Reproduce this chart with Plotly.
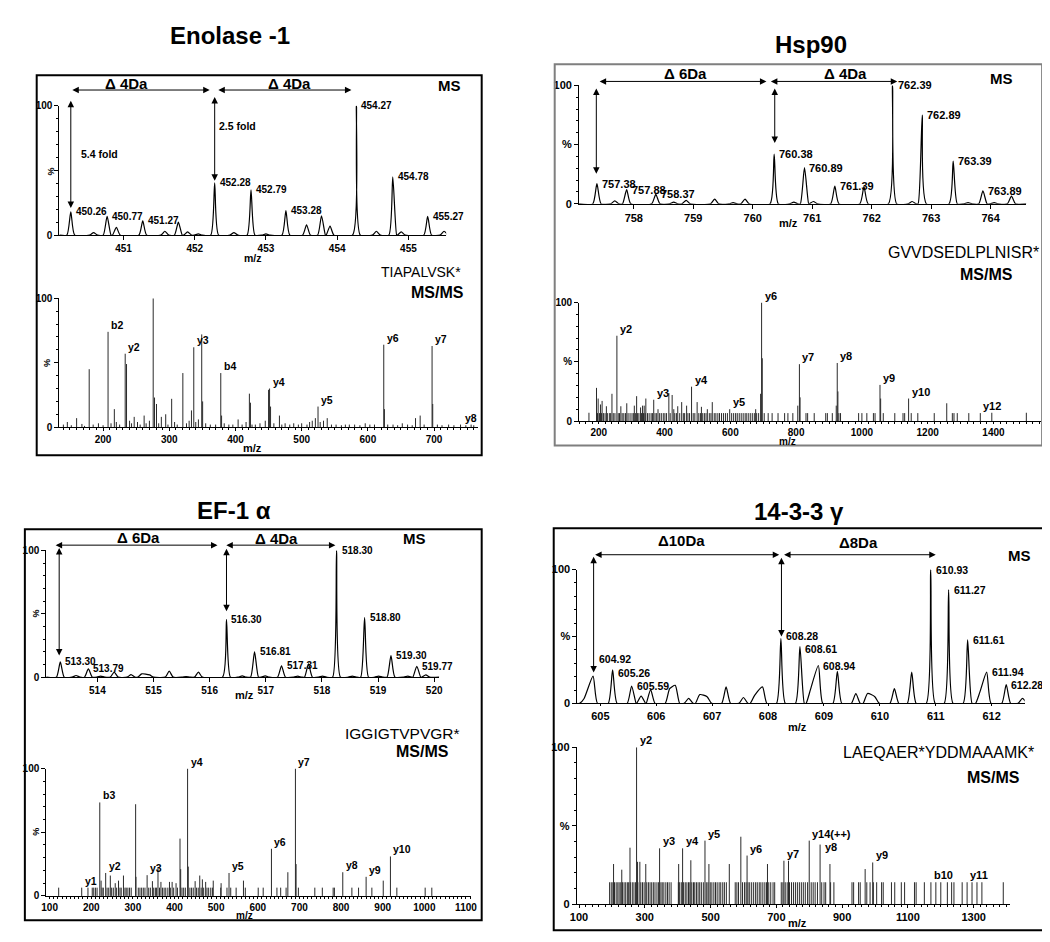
import plotly.graph_objects as go

W, H = 1050, 942
FONT = 'Liberation Sans, Arial, sans-serif'

# ---------------- Enolase -1 ----------------
ENO_MS_MZ = [450.26, 450.58, 450.77, 450.90, 451.27, 451.58, 451.77, 451.90, 452.05, 452.28, 452.55,
             452.79, 453.00, 453.28, 453.57, 453.78, 453.90, 454.27, 454.55, 454.78, 454.90, 455.27, 455.50]
ENO_MS_INT = [18, 2, 14.5, 6, 11, 3, 10, 2.5, 1, 40.5, 2,
              35, 1, 19, 8, 15, 7, 100, 3, 45, 2.5, 14.5, 3]
ENO_MS_LABEL_AT = [450.26, 450.77, 451.27, 452.28, 452.79, 453.28, 454.27, 454.78, 455.27]
ENO_MS_LABELS = ['450.26', '450.77', '451.27', '452.28', '452.79', '453.28', '454.27', '454.78', '455.27']

ENO_MSMS_MZ = [146, 160, 179, 207.5, 217, 233.4, 235.4, 247, 262, 275.7, 277.7, 280.7, 288, 294.6, 303.6,
               320.5, 333.5, 337, 349, 350.4, 377.8, 379, 404, 421, 422.6, 450, 451.5, 453, 466.4,
               520.7, 524.7, 538.6, 624, 625, 679, 697, 698, 756]
ENO_MSMS_INT = [4, 7, 45, 74, 14, 57, 49, 8, 9, 100, 23, 18, 8, 10, 22,
                42, 13, 62, 72, 20, 42, 9, 6, 26, 19, 29, 30, 16, 9,
                7, 16, 7, 64, 14, 9, 63, 18, 2]
ENO_NOISE_MZ = [140, 152, 168, 172, 185, 193, 200, 212, 220, 225, 240, 243, 252, 256, 265, 270, 284, 298,
                308, 312, 326, 330, 340, 344, 355, 362, 370, 383, 390, 396, 410, 416, 425, 430, 437, 445,
                458, 470, 475, 482, 488, 495, 500, 508, 512, 516, 528, 533, 545, 552, 560, 566, 572, 580,
                588, 596, 603, 610, 630, 638, 645, 652, 660, 667, 672, 685, 705, 712, 722, 730, 740, 748, 760]
ENO_NOISE_INT = [2, 1.5, 2.5, 1, 2, 3, 1.5, 3, 4, 2, 5, 3, 4, 2, 3, 5, 3, 2,
                 4, 2, 3, 5, 4, 6, 3, 2, 2, 3, 2, 2, 2, 4, 2, 2, 3, 5,
                 3, 2, 3, 2, 3, 2, 3, 2, 4, 5, 4, 5, 2, 2, 1.5, 2, 2, 2,
                 1.5, 3, 2, 2, 2, 2, 1.5, 3, 2, 1.5, 7, 2, 2, 1.5, 2, 1.5, 2, 1.5, 1.5]
ENO_MSMS_LABEL_AT = [207.5, 233.4, 337, 377.8, 451.5, 524.7, 624, 697, 756]
ENO_MSMS_LABELS = ['b2', 'y2', 'y3', 'b4', 'y4', 'y5', 'y6', 'y7', 'y8']

# ---------------- Hsp90 ----------------
HSP_MS_MZ = [757.38, 757.68, 757.88, 758.37, 758.67, 758.88, 759.36, 759.67, 759.87, 760.36, 760.69, 760.87,
             761.02, 761.38, 761.87, 762.35, 762.68, 762.85, 763.37, 763.62, 763.87, 764.06, 764.35]
HSP_MS_INT = [17, 2.5, 12, 8, 1.5, 3, 4, 1, 4, 42, 1.5, 30.5,
              2, 15, 14.5, 100, 2, 75, 36, 1, 11, 1, 6.5]
HSP_MS_LABEL_AT = [757.38, 757.88, 758.37, 760.36, 760.87, 761.38, 762.35, 762.85, 763.37, 763.87]
HSP_MS_LABELS = ['757.38', '757.88', '758.37', '760.38', '760.89', '761.39', '762.39', '762.89', '763.39', '763.89']

HSP_MSMS_MZ = [170, 193, 198, 205, 210, 223, 240, 255, 267, 285, 308, 315, 327, 333, 338, 343, 367, 380,
               413, 423, 428, 440, 452, 467, 482, 499, 512, 530, 545, 598, 677, 692, 695, 697,
               805, 810, 812, 922, 925, 927, 1055, 1057, 1142, 1258, 1360, 1395, 1500]
HSP_MSMS_INT = [7, 28, 19, 14, 17, 12.5, 23, 72, 12.5, 15, 13, 21, 11.5, 13, 13, 19, 18, 10,
                23.6, 22, 10, 12.5, 16, 13, 29, 16, 12, 10, 16, 10, 10, 23, 100, 53,
                13, 48, 20, 13, 49, 25, 30.5, 19, 19, 15, 6.7, 7, 7]
HSP_BAND_LEVEL = 6.7
HSP_BAND_MZ = [196, 202, 208, 214, 219, 226, 232, 236, 244, 249, 259, 263, 271, 276, 281, 289, 295, 301,
               306, 312, 318, 322, 330, 336, 341, 348, 353, 359, 363, 371, 376, 385, 390, 396, 401, 406,
               417, 431, 436, 446, 457, 461, 471, 476, 487, 492, 504, 509, 516, 521, 526, 536, 541, 551,
               556, 562, 567, 573, 579, 585, 591, 604, 610, 616, 621, 627, 633, 639, 645, 650, 656, 662,
               668, 674, 680, 686, 703, 715, 727, 745, 765, 775, 790, 830, 835, 855, 890, 895, 910, 930,
               935, 990, 1000, 1015, 1035, 1040, 1065, 1100, 1125, 1130, 1150, 1170, 1220, 1275, 1280,
               1290, 1325]
HSP_MSMS_LABEL_AT = [255, 367, 482, 598, 695, 810, 925, 1055, 1142, 1360]
HSP_MSMS_LABELS = ['y2', 'y3', 'y4', 'y5', 'y6', 'y7', 'y8', 'y9', 'y10', 'y12']

# ---------------- EF-1 alpha ----------------
EF_MS_MZ = [513.34, 513.62, 513.84, 514.06, 514.30, 514.60, 514.79, 514.93, 515.28, 515.58, 515.80, 516.30,
            516.58, 516.80, 516.99, 517.28, 517.57, 517.76, 518.01, 518.26, 518.54, 518.76, 519.01, 519.23,
            519.53, 519.69, 519.85]
EF_MS_INT = [12, 1.3, 6.5, 0.8, 4, 2, 2.6, 1.8, 4.7, 0.5, 4, 45.5,
             1, 20, 1, 9, 0.8, 10.4, 0.8, 100, 0.8, 47, 0.8, 17,
             0.8, 8.6, 1.8]
EF_MS_LABEL_AT = [513.34, 513.84, 516.30, 516.80, 517.28, 518.26, 518.76, 519.23, 519.69]
EF_MS_LABELS = ['513.30', '513.79', '516.30', '516.81', '517.31', '518.30', '518.80', '519.30', '519.77']

EF_MSMS_MZ = [121.8, 177.1, 192.1, 202.4, 220.5, 223.7, 234.7, 245.8, 257.6, 265.5, 277.4, 306.6, 307.4,
              334.2, 346.9, 360.3, 367.4, 387.9, 394.3, 403.7, 413.2, 414.8, 431.4, 433, 449.5, 460.6,
              466.9, 474.8, 493, 511.9, 530.9, 565.6, 632.8, 672.2, 690.4, 692, 804.1, 860.2, 901.3, 918.6]
EF_MSMS_INT = [6.5, 6.5, 6.5, 6.5, 73.4, 12, 18, 16, 10, 12, 16, 72, 15,
               16.3, 11.6, 22.5, 11, 11, 11, 10, 45, 21, 100, 23, 11.6, 16,
               13, 11, 12, 10, 18, 12, 37, 18.6, 100, 25, 18.6, 15, 12, 31]
EF_BAND_LEVEL = 6.5
EF_BAND_MZ = [206, 210, 214, 226, 229, 238, 242, 249, 253, 261, 269, 272, 281, 284, 288, 292, 296, 313,
              317, 321, 325, 329, 338, 342, 350, 354, 357, 364, 371, 375, 379, 384, 390, 398, 407, 418,
              422, 426, 437, 441, 445, 453, 457, 464, 470, 478, 482, 487, 491, 511, 526, 535, 548, 570,
              601, 613, 646, 655, 668, 697.5, 737, 755, 781, 784, 826, 842, 874, 934, 1002, 1018]
EF_MSMS_LABEL_AT = [177.1, 220.5, 234.7, 334.2, 431.4, 530.9, 632.8, 690.4, 804.1, 860.2, 918.6]
EF_MSMS_LABELS = ['y1', 'b3', 'y2', 'y3', 'y4', 'y5', 'y6', 'y7', 'y8', 'y9', 'y10']

# ---------------- 14-3-3 gamma ----------------
G14_MS_MZ = [604.71, 604.87, 605.22, 605.56, 605.73, 605.90, 606.24, 606.34, 606.58, 606.78, 606.91, 607.25,
             607.56, 607.76, 607.90, 608.23, 608.57, 608.76, 608.90, 609.24, 609.57, 609.78, 609.91, 610.26,
             610.57, 610.91, 611.23, 611.57, 611.79, 611.91, 612.26, 612.55]
G14_MS_INT = [3.7, 20.4, 25, 13, 5.4, 10.3, 11, 13.5, 3.7, 6.6, 5, 12.3,
              4.4, 6, 12.3, 48.4, 42.5, 10.5, 28.3, 24, 7.4, 7.4, 5, 11,
              23.3, 100, 84.8, 47.4, 8.6, 23.3, 14, 3.7]
G14_MS_LABEL_AT = [604.87, 605.22, 605.56, 608.23, 608.57, 608.90, 610.91, 611.23, 611.57, 611.91, 612.26]
G14_MS_LABELS = ['604.92', '605.26', '605.59', '608.28', '608.61', '608.94', '610.93', '611.27', '611.61',
                 '611.94', '612.28']

G14_MSMS_MZ = [205, 230, 255, 275, 278, 285, 303, 345, 403, 415, 440, 483, 495, 557, 592, 611, 673, 723,
               737, 800, 833, 863, 970, 993]
G14_MSMS_INT = [25.6, 22, 36, 100, 27, 27, 25.6, 35.6, 25.6, 35.6, 28, 40.5, 25.6, 25.6, 43, 31, 25.6, 27.7,
                27.7, 40.5, 38, 25.6, 22.4, 26.6]
G14_BAND_LEVEL = 14
G14_BAND_MZ = [193, 198, 203, 208, 213, 218, 222, 227, 232, 237, 242, 247, 251, 256, 262, 267, 272, 279,
               288, 293, 298, 306, 311, 316, 321, 326, 331, 337, 342, 349, 353, 358, 364, 369, 374, 380,
               402, 406, 411, 418, 423, 428, 433, 437, 443, 448, 452, 457, 462, 467, 472, 478, 487, 492,
               499, 504, 510, 515, 520, 526, 531, 537, 542, 548, 575, 580, 585, 597, 603, 608, 614, 619,
               625, 631, 637, 642, 648, 653, 659, 665, 670, 677, 683, 690, 695, 715, 720, 727, 733, 740,
               746, 752, 758, 764, 770, 776, 782, 788, 795, 806, 812, 818, 825, 838, 845, 850, 865, 875,
               930, 935, 950, 955, 975, 985, 995, 1005, 1020, 1025, 1050, 1060, 1080, 1090, 1120, 1125,
               1150, 1170, 1185, 1200, 1220, 1233, 1240, 1265, 1280, 1295, 1310, 1325, 1390]
G14_MSMS_LABEL_AT = [275, 345, 415, 483, 611, 723, 800, 833, 993, 1170, 1280]
G14_MSMS_LABELS = ['y2', 'y3', 'y4', 'y5', 'y6', 'y7', 'y14(++)', 'y8', 'y9', 'b10', 'y11']

# per-label placement tweaks (style only)
NUDGE = {
    'y8@756': dict(xanchor='center', xshift=0),
    '604.92': dict(yshift=17, xshift=4),
    '605.26': dict(yshift=-3),
    '608.28': dict(yshift=3),
    '608.61': dict(yshift=-2),
    'y8@833': dict(yanchor='middle', xshift=3, yshift=-2),
}


def fx(p):
    return p / W


def fy(p):
    return 1 - p / H


def refs(n):
    return ('x' if n == 1 else 'x%d' % n), ('y' if n == 1 else 'y%d' % n)


def profile(mz, inten, width, lo, hi):
    # peak list -> line points (peak top plus a foot on each free side)
    xs, ys = [lo], [0]
    for i, (m, h) in enumerate(zip(mz, inten)):
        gap_prev = m - mz[i - 1] if i > 0 else 99
        gap_next = mz[i + 1] - m if i < len(mz) - 1 else 99
        if gap_prev > 2 * width + 1e-6:
            xs.append(m - width)
            ys.append(0)
        xs.append(m)
        ys.append(h)
        if gap_next > 2 * width + 1e-6:
            xs.append(m + width)
            ys.append(0)
    xs.append(hi)
    ys.append(0)
    return xs, ys


def sticks(mz, inten):
    xs, ys = [], []
    for m, h in zip(mz, inten):
        xs += [m, m, None]
        ys += [0, h, None]
    return xs, ys


fig = go.Figure()
annotations = []
shapes = []
layout_axes = {}


def add_axes(n, xpx, ypx, xrange, dtick, tick0, minor_dt, tsize, rotated_pct, tlen=4):
    # ypx = (pixel of 0, pixel of 100)
    xa = dict(domain=[fx(xpx[0]), fx(xpx[1])], range=xrange, anchor='y%d' % n,
              showline=True, linecolor='black', linewidth=1, ticks='outside', ticklen=tlen,
              tickwidth=1, tickcolor='black', dtick=dtick, tick0=tick0,
              tickfont=dict(size=tsize, weight='bold', family=FONT, color='black'),
              showgrid=False, zeroline=False)
    if minor_dt:
        xa['minor'] = dict(dtick=minor_dt, ticks='outside', ticklen=2, tickcolor='black')
    ya = dict(domain=[fy(ypx[0]), fy(ypx[1])], range=[0, 100], anchor='x%d' % n,
              showline=True, linecolor='black', linewidth=1, ticks='outside', ticklen=4,
              tickwidth=1, tickcolor='black', tickvals=[0, 50, 100],
              ticktext=['0', '' if rotated_pct else '%', '100'],
              tickfont=dict(size=tsize, weight='bold', family=FONT, color='black'),
              minor=dict(dtick=10, ticks='outside', ticklen=2, tickcolor='black'),
              showgrid=False, zeroline=False)
    key = '' if n == 1 else str(n)
    layout_axes['xaxis' + key] = xa
    layout_axes['yaxis' + key] = ya


def add_ms(n, mz, inten, width, xr, label_at, labels, lsize):
    xref, yref = refs(n)
    xs, ys = profile(mz, inten, width, xr[0], xr[1])
    fig.add_trace(go.Scatter(x=xs, y=ys, mode='lines', xaxis=xref, yaxis=yref,
                             line=dict(color='black', width=1.2, shape='spline', smoothing=0.6),
                             showlegend=False, hoverinfo='skip'))
    for m, t in zip(label_at, labels):
        h = inten[mz.index(m)]
        a = dict(x=m, y=h, xref=xref, yref=yref, text='<b>%s</b>' % t, showarrow=False,
                 xanchor='left', yanchor='middle', xshift=3,
                 font=dict(size=lsize, family=FONT, color='black'))
        a.update(NUDGE.get(t, {}))
        annotations.append(a)


def add_msms(n, mz, inten, band_mz, band_level, label_at, labels, lsize):
    xref, yref = refs(n)
    all_mz = list(mz) + list(band_mz)
    all_int = list(inten) + [band_level] * len(band_mz)
    xs, ys = sticks(all_mz, all_int)
    fig.add_trace(go.Scatter(x=xs, y=ys, mode='lines', xaxis=xref, yaxis=yref,
                             line=dict(color='#2a2a2a', width=1), showlegend=False, hoverinfo='skip'))
    for m, t in zip(label_at, labels):
        h = all_int[all_mz.index(m)]
        a = dict(x=m, y=h, xref=xref, yref=yref, text='<b>%s</b>' % t, showarrow=False,
                 xanchor='left', yanchor='bottom', xshift=1, yshift=-1,
                 font=dict(size=lsize, family=FONT, color='black'))
        a.update(NUDGE.get('%s@%g' % (t, m), {}))
        annotations.append(a)


def varrow(n, x, y0, y1):
    xref, yref = refs(n)
    annotations.append(dict(x=x, y=y1, ax=x, ay=y0, xref=xref, yref=yref, axref=xref, ayref=yref,
                            text='', showarrow=True, arrowhead=2, arrowside='end+start', arrowsize=1.3,
                            arrowwidth=1, arrowcolor='black', standoff=0, startstandoff=0))


def harrow(n, x0, x1, py):
    # y is held in paper units so the arrow can sit above the 100 % line
    xref, _ = refs(n)
    annotations.append(dict(x=x1, ax=x0, xref=xref, axref=xref, y=fy(py), yref='paper', ay=0, ayref='pixel',
                            text='', showarrow=True, arrowhead=2, arrowside='end+start', arrowsize=1.3,
                            arrowwidth=1, arrowcolor='black', standoff=0, startstandoff=0))


def text(px, py, s, size, bold=True, xanchor='center', angle=0):
    annotations.append(dict(x=fx(px), y=fy(py), xref='paper', yref='paper',
                            text=('<b>%s</b>' % s) if bold else s, showarrow=False,
                            xanchor=xanchor, yanchor='middle', textangle=angle,
                            font=dict(size=size, family=FONT, color='black')))


def box(x0, y0, x1, y1, color):
    shapes.append(dict(type='rect', xref='paper', yref='paper', x0=fx(x0), x1=fx(x1), y0=fy(y1), y1=fy(y0),
                       line=dict(color=color, width=2)))


# ---- Enolase -1 ----
box(22, 62, 473, 447, 'black')
text(218, 22, 'Enolase -1', 24)
add_axes(1, (45, 437), (224, 93), [450.10, 455.53], 1, 451, None, 10, True)
add_ms(1, ENO_MS_MZ, ENO_MS_INT, 0.055, [450.10, 455.53], ENO_MS_LABEL_AT, ENO_MS_LABELS, 10)
harrow(1, 450.26, 452.21, 77)
harrow(1, 452.31, 454.20, 77)
varrow(1, 450.26, 105, 21)
varrow(1, 452.28, 108, 42)
text(440, 72, 'MS', 15)
text(113, 70, 'Δ 4Da', 15)
text(278, 70, 'Δ 4Da', 15)
text(65, 142, '5.4 fold', 10.5, xanchor='left')
text(205, 113, '2.5 fold', 10.5, xanchor='left')
text(241, 247, 'm/z', 10.5)
text(37, 159, '%', 9, angle=90)

add_axes(2, (45, 469), (418.5, 288), [134, 766], 100, 200, 10, 10, True, tlen=3)
add_msms(2, ENO_MSMS_MZ + ENO_NOISE_MZ, ENO_MSMS_INT + ENO_NOISE_INT, [], 0,
         ENO_MSMS_LABEL_AT, ENO_MSMS_LABELS, 10.5)
text(454, 261, 'TIAPALVSK*', 14, bold=False, xanchor='right')
text(428, 282, 'MS/MS', 16)
text(241, 440, 'm/z', 11)
text(33, 353, '%', 9, angle=90)

# ---- Hsp90 ----
box(547, 51, 1041, 437, '#7f7f7f')
text(807, 31, 'Hsp90', 24)
add_axes(3, (571.7, 1025), (192.3, 72.3), [757.08, 764.6], 1, 758, None, 11, False)
add_ms(3, HSP_MS_MZ, HSP_MS_INT, 0.07, [757.08, 764.6], HSP_MS_LABEL_AT, HSP_MS_LABELS, 11)
harrow(3, 757.40, 760.23, 68.3)
harrow(3, 760.28, 762.43, 68.3)
varrow(3, 757.37, 98.6, 25.5)
varrow(3, 760.37, 98.6, 51.3)
text(1000, 65, 'MS', 15)
text(680, 60, 'Δ 6Da', 15)
text(842, 60, 'Δ 4Da', 15)
text(784, 212, 'm/z', 11)

add_axes(4, (571.7, 1040), (412.3, 292.3), [140, 1545], 200, 200, 20, 10, False, tlen=2)
add_msms(4, HSP_MSMS_MZ, HSP_MSMS_INT, HSP_BAND_MZ, HSP_BAND_LEVEL,
         HSP_MSMS_LABEL_AT, HSP_MSMS_LABELS, 11)
text(1040, 242, 'GVVDSEDLPLNISR*', 16, bold=False, xanchor='right')
text(985, 264, 'MS/MS', 16)
text(783, 433, 'm/z', 10)

# ---- EF-1 alpha ----
box(10, 522, 473, 918, 'black')
text(222, 503, 'EF-1 α', 24)
add_axes(5, (31.7, 430), (671.7, 543.3), [513.09, 520.09], 1, 514, None, 10, True)
add_ms(5, EF_MS_MZ, EF_MS_INT, 0.07, [513.09, 520.09], EF_MS_LABEL_AT, EF_MS_LABELS, 10)
harrow(5, 513.23, 516.14, 538)
harrow(5, 516.27, 518.24, 538)
varrow(5, 513.32, 103, 17)
varrow(5, 516.30, 102.5, 52)
text(405, 531, 'MS', 15)
text(125, 530, 'Δ 6Da', 15)
text(265, 531, 'Δ 4Da', 15)
text(233, 690, 'm/z', 11)
text(21, 607, '%', 9, angle=90)

add_axes(6, (31.7, 461.7), (893.3, 764.3), [92, 1111], 100, 200, 10, 10, True, tlen=2)
add_msms(6, EF_MSMS_MZ, EF_MSMS_INT, EF_BAND_MZ, EF_BAND_LEVEL, EF_MSMS_LABEL_AT, EF_MSMS_LABELS, 10.5)
text(453, 729, 'IGGIGTVPVGR*', 15.5, bold=False, xanchor='right')
text(413, 747, 'MS/MS', 16)
text(233, 913, 'm/z', 10)
text(21, 828, '%', 9, angle=90)

# ---- 14-3-3 gamma ----
box(546, 521, 1042, 928, 'black')
text(795, 504, '14-3-3 γ', 24)
add_axes(7, (570, 1023.3), (698.3, 562.7), [604.59, 612.59], 1, 605, None, 11, False, tlen=2)
add_ms(7, G14_MS_MZ, G14_MS_INT, 0.08, [604.59, 612.59], G14_MS_LABEL_AT, G14_MS_LABELS, 10.5)
harrow(7, 604.88, 608.20, 547.7)
harrow(7, 608.26, 611.00, 547.7)
varrow(7, 604.88, 110.6, 23)
varrow(7, 608.24, 110, 50)
text(1018, 548, 'MS', 15)
text(675, 533, 'Δ10Da', 15)
text(855, 535, 'Δ8Da', 15)
text(793, 722, 'm/z', 11)

add_axes(8, (569.3, 1008.3), (901.7, 742.7), [93, 1410], 200, 100, 20, 11, False, tlen=3)
add_msms(8, G14_MSMS_MZ, G14_MSMS_INT, G14_BAND_MZ, G14_BAND_LEVEL, G14_MSMS_LABEL_AT, G14_MSMS_LABELS, 11)
text(1035, 748, 'LAEQAER*YDDMAAAMK*', 16, bold=False, xanchor='right')
text(992, 773, 'MS/MS', 16)
text(793, 921, 'm/z', 11)

fig.update_layout(width=W, height=H, autosize=False, margin=dict(l=0, r=0, t=0, b=0),
                  paper_bgcolor='white', plot_bgcolor='white',
                  font=dict(family=FONT, color='black'),
                  annotations=annotations, shapes=shapes, showlegend=False, **layout_axes)
fig.write_html('out.html')
